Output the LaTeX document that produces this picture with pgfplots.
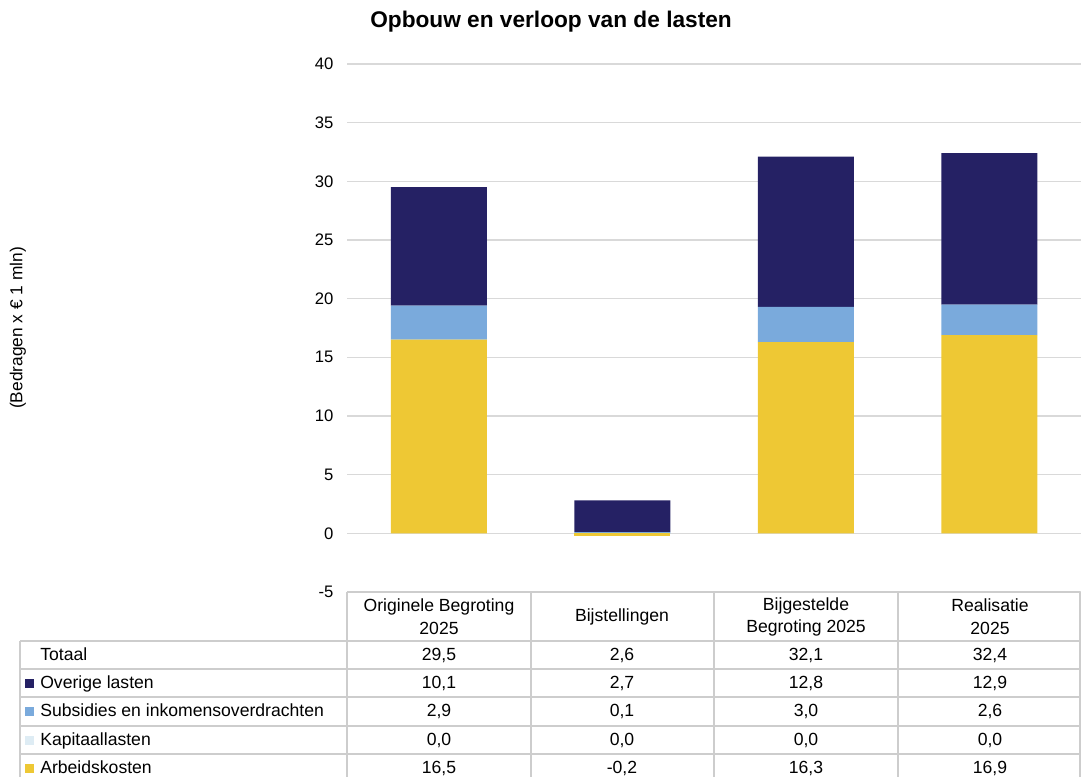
\documentclass[border=0pt]{standalone}
\usepackage{fontspec}
\setmainfont{Liberation Sans}
\usepackage{pgfplots}
\pgfplotsset{compat=1.18}
\definecolor{navy}{RGB}{37,33,100}
\definecolor{lblue}{RGB}{122,170,220}
\definecolor{kap}{RGB}{222,236,244}
\definecolor{yel}{RGB}{238,200,52}
\definecolor{gridc}{RGB}{217,217,217}
\definecolor{tabc}{RGB}{205,205,205}
\begin{document}
\begin{tikzpicture}[x=0.75pt,y=-0.75pt]
\path[use as bounding box] (0,0) rectangle (1081,777);
\pgfplotsset{basestyle/.style={
  at={(260.25pt,-444pt)}, anchor=south west,
  width=550.5pt, height=396pt, scale only axis,
  xmin=-0.5, xmax=3.5, ymin=-5, ymax=40,
  xtick=\empty, bar width=72pt,
  axis line style={draw=none}, tick style={draw=none}}}
\begin{axis}[basestyle, ybar stacked,
  ytick={-5,0,...,40},
  ymajorgrids, grid style={gridc, line width=0.9pt},
  yticklabel style={font=\fontsize{12.5}{15}\selectfont, anchor=east, inner sep=0pt, xshift=-10pt,
    /pgf/number format/assume math mode=true},
  ]
\addplot[fill=yel, draw=none] coordinates {(0,16.5) (1,0) (2,16.3) (3,16.9)};
\addplot[fill=kap, draw=none] coordinates {(0,0) (1,0) (2,0) (3,0)};
\addplot[fill=lblue, draw=none] coordinates {(0,2.9) (1,0.1) (2,3.0) (3,2.6)};
\addplot[fill=navy, draw=none] coordinates {(0,10.1) (1,2.7) (2,12.8) (3,12.9)};
\end{axis}
\begin{axis}[basestyle, ybar, hide axis]
\addplot[fill=yel, draw=none] coordinates {(1,-0.2)};
\end{axis}
% title and y label
\node[font=\bfseries\fontsize{17}{20}\selectfont] at (551,22) {Opbouw en verloop van de lasten};
\node[rotate=90, font=\fontsize{13}{15}\selectfont] at (18,328) {(Bedragen x € 1 mln)};
% table lines
\begin{scope}[tabc, line width=0.9pt]
\draw (347,592) -- (1080,592);
\foreach \xx in {347,531,714,898,1080} \draw (\xx,592) -- (\xx,777);
\draw (20,641) -- (20,777);
\foreach \yy in {641,669,697,726,754} \draw (20,\yy) -- (1080,\yy);
\end{scope}
\begin{scope}[font=\fontsize{13.2}{17}\selectfont]
% header
\node[align=center] at (439,617) {Originele Begroting\\2025};
\node[align=center] at (622,617) {Bijstellingen};
\node[align=center] at (806,617) {Bijgestelde\\Begroting 2025};
\node[align=center] at (990,617) {Realisatie\\2025};
\end{scope}
\begin{scope}[font=\fontsize{13.2}{17}\selectfont, every node/.style={inner sep=0pt, text height=0.72em, text depth=0.2em}]
% row labels
\node[anchor=west] at (40,657) {Totaal};
\node[anchor=west] at (40,685) {Overige lasten};
\node[anchor=west] at (40,713) {Subsidies en inkomensoverdrachten};
\node[anchor=west] at (40,742) {Kapitaallasten};
\node[anchor=west] at (40,770) {Arbeidskosten};
% values
\node at (439,657) {29,5};
\node at (439,685) {10,1};
\node at (439,713) {2,9};
\node at (439,742) {0,0};
\node at (439,770) {16,5};
\node at (622,657) {2,6};
\node at (622,685) {2,7};
\node at (622,713) {0,1};
\node at (622,742) {0,0};
\node at (622,770) {-0,2};
\node at (806,657) {32,1};
\node at (806,685) {12,8};
\node at (806,713) {3,0};
\node at (806,742) {0,0};
\node at (806,770) {16,3};
\node at (990,657) {32,4};
\node at (990,685) {12,9};
\node at (990,713) {2,6};
\node at (990,742) {0,0};
\node at (990,770) {16,9};
\end{scope}
\fill[navy] (25,679) rectangle (34,688);
\fill[lblue] (25,707) rectangle (34,716);
\fill[kap] (25,736) rectangle (34,745);
\fill[yel] (25,764) rectangle (34,773);
\end{tikzpicture}
\end{document}
